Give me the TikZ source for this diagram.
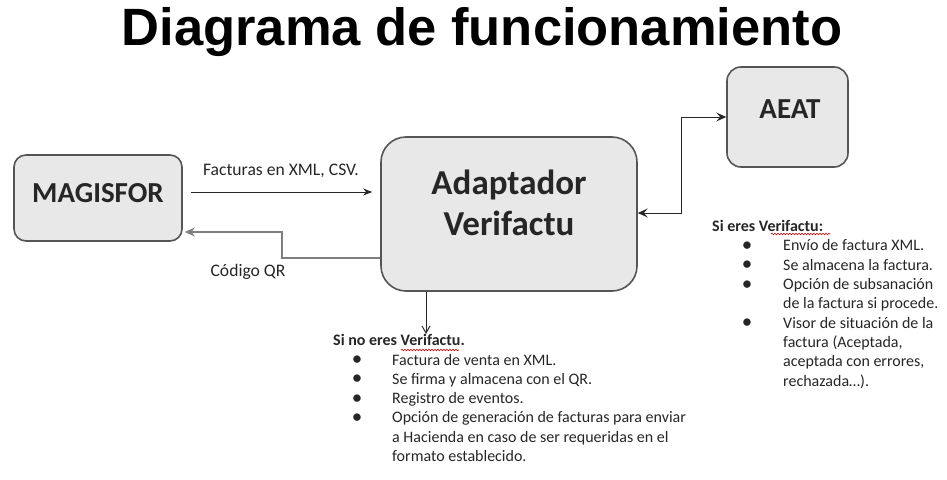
\documentclass[tikz,border=0pt]{standalone}
\usepackage{xcolor}
\usepackage{fontspec}
\setmainfont{Carlito}
\newfontfamily\titlefont{Liberation Sans}
\usepackage{tikz}
\usetikzlibrary{arrows.meta}
\usetikzlibrary{positioning, decorations.pathmorphing}
\definecolor{boxfill}{HTML}{E8E8E8}
\definecolor{boxline}{HTML}{555555}
\definecolor{ink}{HTML}{262626}
\definecolor{backline}{HTML}{7F7F7F}
\newcommand{\listdot}[2]{\makebox[#2][l]{\hspace{#1}\makebox[0pt]{\raisebox{-0.5pt}{\fontsize{21}{19}\selectfont\textbullet}}}}
\tikzset{
box/.style = {rectangle, draw = boxline, fill = boxfill, line width = 1.6pt, inner sep = 0pt},
box text/.style = {text = ink, font = \bfseries\fontsize{29}{35}\selectfont},
big text/.style = {text = ink, align = center, font = \bfseries\fontsize{35}{41}\selectfont},
flow label/.style = {text = ink, font = \fontsize{17.6}{20}\selectfont},
list text/.style = {text = ink, align = left, inner sep = 0pt, font = \fontsize{16}{19.3}\selectfont},
fwd/.style = {draw = ink, line width = 1pt, -{Stealth[length = 9pt, width = 7pt]}},
back/.style = {draw = backline, line width = 2pt, -{Stealth[length = 10pt, width = 9pt]}},
down/.style = {draw = ink, line width = 1pt, -{Straight Barb[length = 7pt, width = 8pt]}},
both/.style = {draw = ink, line width = 1pt, {Stealth[length = 10pt, width = 9pt, inset = 4pt]}-{Stealth[length = 10pt, width = 9pt, inset = 4pt]}},
squiggle/.style = {draw = red!80!black, line width = 0.6pt, decorate, decoration = {snake, segment length = 3pt, amplitude = 0.8pt}}
}
\begin{document}
\begin{tikzpicture}[x = 1pt, y = -1pt]
    \useasboundingbox (0, 0) rectangle (947, 479);
    \node[anchor = base, font = \titlefont\bfseries\fontsize{52.5}{60}\selectfont] (title) at (482, 45) {Diagrama de funcionamiento};
    % boxes
    \node[box, minimum width = 168pt, minimum height = 86pt, rounded corners = 12pt] (magisfor) at (98, 198) {};
    \node[box, minimum width = 256pt, minimum height = 154pt, rounded corners = 25pt] (adaptador) at (509, 214) {};
    \node[box, minimum width = 121pt, minimum height = 100pt, rounded corners = 14pt] (aeat) at (787.5, 117) {};
    \node[box text, anchor = base] (magisfor label) at (98, 202.5) {MAGISFOR};
    \node[big text] (adaptador label) at (509, 203) {Adaptador\\Verifactu};
    \node[box text, anchor = base] (aeat label) at (790, 118.5) {AEAT};
    % connectors
    \draw[fwd, shorten < = 8pt, shorten > = 8pt] ([yshift = 6pt]magisfor.east) -- ([yshift = 22pt]adaptador.west);
    \draw[back, shorten > = 2pt] ([yshift = -44pt]adaptador.west) -- ++(-98, 0) |- ([yshift = -34pt]magisfor.east);
    \coordinate (listtop) at (426, 334);
    \draw[down] ([xshift = -83pt]adaptador.south) -- (listtop);
    \draw[both] ([yshift = 1pt]adaptador.east) -- ++(44, 0) |- (aeat.west);
    \node[flow label] (xml label) at (281, 171) {Facturas en XML, CSV.};
    \node[flow label] (qr label) at (248, 272) {Código QR};
    % lists
    \node[list text, anchor = base west] (no verif) at (333, 461.5) {\textbf{Si no eres Verifactu.}\\
        \listdot{24pt}{59pt}Factura de venta en XML.\\
        \listdot{24pt}{59pt}Se firma y almacena con el QR.\\
        \listdot{24pt}{59pt}Registro de eventos.\\
        \listdot{24pt}{59pt}Opción de generación de facturas para enviar\\
        \makebox[59pt]{}a Hacienda en caso de ser requeridas en el\\
        \makebox[59pt]{}formato establecido.};
    \node[list text, anchor = base west] (verif) at (712, 386) {\textbf{Si eres Verifactu:}\\
        \listdot{35pt}{71pt}Envío de factura XML.\\
        \listdot{35pt}{71pt}Se almacena la factura.\\
        \listdot{35pt}{71pt}Opción de subsanación\\
        \makebox[71pt]{}de la factura si procede.\\
        \listdot{35pt}{71pt}Visor de situación de la\\
        \makebox[71pt]{}factura (Aceptada,\\
        \makebox[71pt]{}aceptada con errores,\\
        \makebox[71pt]{}rechazada…).};
    \draw[squiggle] (401, 350) -- (459, 350);
    \draw[squiggle] (771, 234) -- (830, 234);
\end{tikzpicture}
\end{document}
